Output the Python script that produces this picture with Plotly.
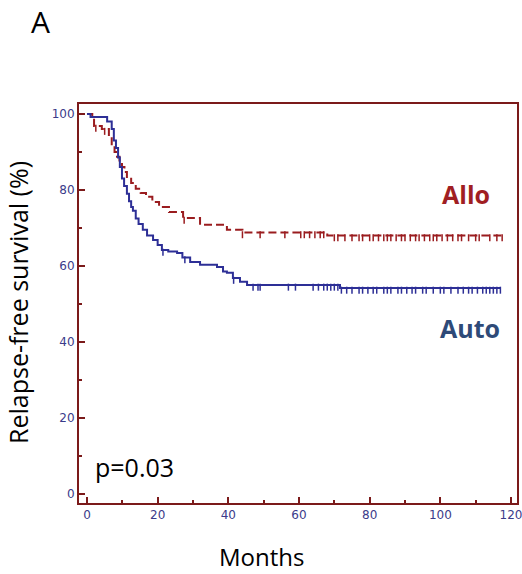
import plotly.graph_objects as go

# Auto (blue, solid) Kaplan-Meier steps
auto_t = [0, 1.0, 5.7, 7.0, 7.6, 8.2, 8.8, 9.3, 9.9, 10.5, 11.3, 11.9, 12.5, 13.0, 13.8, 14.6,
          15.8, 17.0, 18.7, 20.0, 21.2, 23.0, 25.5, 27.0, 29.2, 32.0, 36.8, 38.5, 39.6, 41.3,
          43.3, 45.3, 71.6, 117.0]
auto_s = [100, 99.2, 98.0, 96.0, 93.0, 91.0, 88.5, 86.0, 83.0, 81.0, 79.0, 77.0, 75.5, 74.5,
          72.5, 71.0, 69.5, 68.0, 66.8, 65.5, 64.2, 63.8, 63.4, 62.2, 61.0, 60.3, 59.7, 58.5,
          58.2, 56.8, 55.8, 55.0, 54.2, 54.2]
auto_cens = [21.5, 27.7, 41.5, 47, 48.4, 49, 57, 59, 64, 65.5, 67, 68, 69, 70, 71, 72, 73.5, 75,
             77, 78, 79.5, 81, 82, 84, 85, 86, 88, 89, 90.5, 92, 93, 95, 96, 98, 100, 101, 103,
             105, 106.5, 108, 109, 110.5, 112, 113, 114, 115, 116, 117]

# Allo (red, dashed) Kaplan-Meier steps
allo_t = [0, 1.5, 2.0, 4.2, 6.2, 7.0, 7.8, 8.5, 9.2, 9.9, 10.6, 11.3, 12.5, 13.8, 15.2, 16.7,
          18.5, 20.4, 23.2, 27.2, 32.0, 39.6, 44.0, 68.0, 117.5]
allo_s = [100, 99.5, 96.8, 96.0, 94.0, 91.6, 90.0, 88.7, 87.3, 86.0, 84.7, 83.4, 81.8, 80.3,
          79.2, 78.2, 76.8, 75.5, 74.2, 72.6, 70.8, 69.5, 68.8, 68.0, 68.0]
allo_cens = [2.5, 5, 27.5, 44, 49, 56, 60.5, 61.5, 63, 64.5, 66, 67, 70, 71, 73, 75, 77, 78, 80,
             81, 82.5, 84, 85, 86, 87.5, 89, 90, 91.5, 93, 94, 95.5, 97, 98, 99, 100.5, 102,
             103.5, 105, 106, 108, 110, 111, 114, 116, 117.5]

x_ticks = [0, 20, 40, 60, 80, 100, 120]
y_ticks = [0, 20, 40, 60, 80, 100]

RED = "#9a1c1f"
BLUE = "#2d2f96"
FRAME = "#7b1a1a"
TICKC = "#3b3b8a"

W, H = 522, 574
ML, MR, MT, MB = 79, 5, 104, 71
PW, PH = W - ML - MR, H - MT - MB


def step_at(ts, ss, x):
    v = ss[0]
    for t, s in zip(ts, ss):
        if t <= x:
            v = s
    return v


fig = go.Figure()
fig.add_trace(go.Scatter(x=allo_t, y=allo_s, mode="lines", line_shape="hv",
                         line=dict(color=RED, width=2, dash="8px,4px"), showlegend=False))
fig.add_trace(go.Scatter(x=auto_t, y=auto_s, mode="lines", line_shape="hv",
                         line=dict(color=BLUE, width=2), showlegend=False))
fig.add_trace(go.Scatter(x=allo_cens, y=[step_at(allo_t, allo_s, c) - 0.6 for c in allo_cens],
                         mode="markers",
                         marker=dict(symbol="line-ns", size=5, line=dict(color=RED, width=1.5)),
                         showlegend=False))
fig.add_trace(go.Scatter(x=auto_cens, y=[step_at(auto_t, auto_s, c) - 0.6 for c in auto_cens],
                         mode="markers",
                         marker=dict(symbol="line-ns", size=5, line=dict(color=BLUE, width=1.5)),
                         showlegend=False))


def ann(text, px, py, size, color, bold=False, angle=0, family="Open Sans, sans-serif"):
    fig.add_annotation(x=(px - ML) / PW, y=(H - MB - py) / PH, xref="paper", yref="paper",
                       text=("<b>%s</b>" % text) if bold else text, showarrow=False,
                       font=dict(size=size, color=color, family=family), textangle=angle,
                       xanchor="center", yanchor="middle")


fig.update_layout(
    width=W, height=H,
    margin=dict(l=ML, r=MR, t=MT, b=MB, autoexpand=False),
    paper_bgcolor="white", plot_bgcolor="white",
    xaxis=dict(range=[-2.26, 121.7], tickvals=x_ticks, ticks="inside", ticklen=6,
               tickwidth=1.5, tickcolor=FRAME, showgrid=False, zeroline=False,
               showline=True, linecolor=FRAME, linewidth=2, mirror=True, automargin=False,
               ticklabeloverflow="allow",
               minor=dict(dtick=10, ticks="inside", ticklen=3, tickcolor=FRAME),
               tickfont=dict(family="DejaVu Sans", size=12, color=TICKC)),
    yaxis=dict(range=[-2.4, 102.6], tickvals=y_ticks, ticks="inside", ticklen=6,
               tickwidth=1.5, tickcolor=FRAME, showgrid=False, zeroline=False,
               showline=True, linecolor=FRAME, linewidth=2, mirror=True, automargin=False,
               minor=dict(dtick=10, ticks="inside", ticklen=3, tickcolor=FRAME),
               tickfont=dict(family="DejaVu Sans", size=12, color=TICKC)),
)

ann("A", 40, 22, 30, "black")
ann("Allo", 466, 194, 25, "#a01e23", bold=True)
ann("Auto", 470, 328, 25, "#2e4a78", bold=True)
ann("p=0.03", 134, 467, 25, "black")
ann("Months", 261, 556, 24, "black")
ann("Relapse-free survival (%)", 18, 303, 25, "black", angle=-90)

fig.write_html("out.html", config={"displayModeBar": False},
               post_script="document.body.style.margin='0';document.body.style.overflow='hidden';")
